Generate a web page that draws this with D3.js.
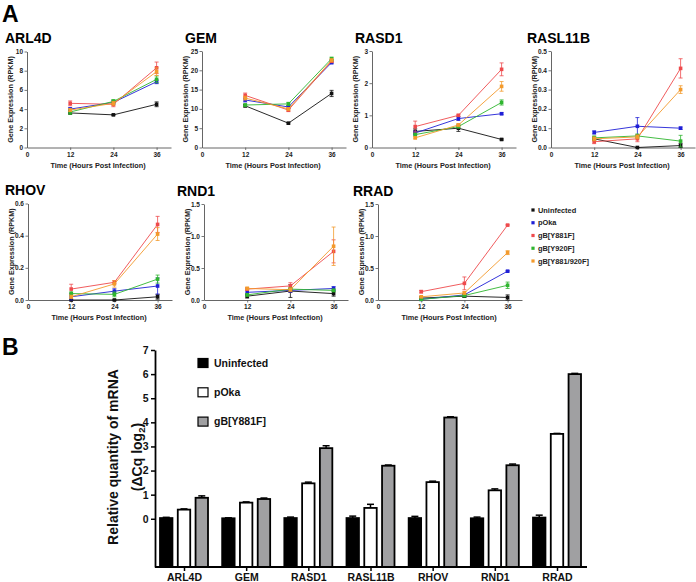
<!DOCTYPE html>
<html>
<head>
<meta charset="utf-8">
<script src="https://cdn.jsdelivr.net/npm/d3@7"></script>
<style>
  body { margin: 0; background: #fff; }
  svg { display: block; font-family: "Liberation Sans", Arial, sans-serif; }
</style>
</head>
<body>
<div id="chart"></div>
<script>
// ---- Panel A data (RPKM, mean and error per series at 12/24/36 hpi) ----
const timePoints = [12, 24, 36];
const xTicksA = [0, 12, 24, 36];
const seriesNames = ["Uninfected", "pOka", "gB[Y881F]", "gB[Y920F]", "gB[Y881/920F]"];

const ARL4D_mean = [[3.6, 3.4, 4.5], [4.0, 4.7, 6.85], [4.6, 4.5, 8.3], [3.7, 4.8, 7.1], [3.9, 4.6, 7.9]];
const ARL4D_err  = [[0.1, 0.05, 0.25], [0.15, 0.2, 0.2], [0.25, 0.25, 0.6], [0.25, 0.2, 0.35], [0.15, 0.2, 0.4]];
const GEM_mean   = [[10.8, 6.3, 14.0], [12.3, 10.5, 22.0], [13.5, 9.7, 22.4], [11.0, 11.3, 23.0], [12.8, 10.0, 22.6]];
const GEM_err    = [[0.3, 0.2, 0.8], [0.5, 0.4, 0.3], [0.6, 0.4, 0.4], [0.3, 0.4, 0.4], [0.5, 0.3, 0.4]];
const RASD1_mean = [[0.5, 0.6, 0.25], [0.45, 0.9, 1.05], [0.65, 1.0, 2.43], [0.4, 0.65, 1.4], [0.3, 0.7, 1.9]];
const RASD1_err  = [[0.08, 0.1, 0.02], [0.06, 0.06, 0.03], [0.17, 0.03, 0.2], [0.04, 0.04, 0.08], [0.03, 0.04, 0.15]];
const RASL11B_mean = [[0.045, 0.0, 0.01], [0.078, 0.11, 0.1], [0.03, 0.045, 0.41], [0.05, 0.06, 0.033], [0.045, 0.055, 0.30]];
const RASL11B_err  = [[0.01, 0.0, 0.01], [0.008, 0.045, 0.006], [0.01, 0.015, 0.05], [0.01, 0.01, 0.03], [0.01, 0.01, 0.02]];
const RHOV_mean  = [[0.0, 0.0, 0.02], [0.02, 0.055, 0.087], [0.068, 0.11, 0.47], [0.04, 0.035, 0.13], [0.02, 0.1, 0.41]];
const RHOV_err   = [[0.0, 0.0, 0.015], [0.02, 0.015, 0.05], [0.03, 0.01, 0.05], [0.01, 0.015, 0.025], [0.01, 0.02, 0.04]];
const RND1_mean  = [[0.06, 0.14, 0.1], [0.12, 0.15, 0.18], [0.17, 0.22, 0.76], [0.08, 0.17, 0.15], [0.18, 0.16, 0.84]];
const RND1_err   = [[0.03, 0.1, 0.04], [0.05, 0.03, 0.03], [0.02, 0.05, 0.18], [0.02, 0.02, 0.02], [0.02, 0.03, 0.3]];
const RRAD_mean  = [[0.03, 0.06, 0.04], [0.01, 0.08, 0.45], [0.13, 0.26, 1.17], [0.01, 0.07, 0.23], [0.05, 0.11, 0.74]];
const RRAD_err   = [[0.02, 0.02, 0.04], [0.01, 0.02, 0.01], [0.02, 0.1, 0.01], [0.01, 0.02, 0.05], [0.01, 0.02, 0.03]];

const ARL4D_ticks = [0, 2, 4, 6, 8, 10];
const GEM_ticks = [0, 5, 10, 15, 20, 25];
const RASD1_ticks = [0, 1, 2, 3];
const RASL11B_ticks = [0, 0.1, 0.2, 0.3, 0.4, 0.5];
const RHOV_ticks = [0, 0.2, 0.4, 0.6];
const RND1_ticks = [0, 0.5, 1.0, 1.5];
const RRAD_ticks = [0, 0.5, 1.0, 1.5];

// ---- Panel B data (qPCR, ΔCq log2) ----
const qpcrGenes = ["ARL4D", "GEM", "RASD1", "RASL11B", "RHOV", "RND1", "RRAD"];
const qpcrGroups = ["Uninfected", "pOka", "gB[Y881F]"];
const qUninfected = [0.03, 0.02, 0.03, 0.03, 0.03, 0.02, 0.05];
const qPOka       = [0.38, 0.67, 1.47, 0.45, 1.52, 1.18, 3.52];
const qY881F      = [0.87, 0.82, 2.93, 2.2, 4.2, 2.22, 6.0];
const qUninfected_err = [0.03, 0.02, 0.04, 0.08, 0.07, 0.05, 0.1];
const qPOka_err       = [0.03, 0.03, 0.05, 0.15, 0.04, 0.06, 0.02];
const qY881F_err      = [0.08, 0.04, 0.1, 0.03, 0.03, 0.05, 0.03];
const yTicksB = [0, 1, 2, 3, 4, 5, 6, 7];

const seriesColors = ["#111111", "#1f1fd6", "#ee4a4c", "#2fb52f", "#f39a2c"];
const barFills = ["#000000", "#ffffff", "#a0a0a2"];

const svg = d3.select("#chart").append("svg")
  .attr("width", 696)
  .attr("height", 582);

// panel letters
svg.append("text").attr("x", 2).attr("y", 22).attr("font-size", 23).attr("font-weight", "bold").text("A");
svg.append("text").attr("x", 2).attr("y", 355).attr("font-size", 23).attr("font-weight", "bold").text("B");

// ---- Panel A: small line charts ----
const panelsA = [
  {gene: "ARL4D",   mean: ARL4D_mean,   err: ARL4D_err,   ticks: ARL4D_ticks,   x0: 27,  top: 51.5, base: 147.5, tx: 5},
  {gene: "GEM",     mean: GEM_mean,     err: GEM_err,     ticks: GEM_ticks,     x0: 202, top: 51,   base: 147.5, tx: 185},
  {gene: "RASD1",   mean: RASD1_mean,   err: RASD1_err,   ticks: RASD1_ticks,   x0: 372, top: 51,   base: 147.5, tx: 355},
  {gene: "RASL11B", mean: RASL11B_mean, err: RASL11B_err, ticks: RASL11B_ticks, x0: 551, top: 51,   base: 147.5, tx: 527},
  {gene: "RHOV",    mean: RHOV_mean,    err: RHOV_err,    ticks: RHOV_ticks,    x0: 28,  top: 203.5, base: 300, tx: 5},
  {gene: "RND1",    mean: RND1_mean,    err: RND1_err,    ticks: RND1_ticks,    x0: 204, top: 204,  base: 300, tx: 177},
  {gene: "RRAD",    mean: RRAD_mean,    err: RRAD_err,    ticks: RRAD_ticks,    x0: 378, top: 204,  base: 300, tx: 353}
];

panelsA.forEach(p => {
  const g = svg.append("g");
  const x = d3.scaleLinear().domain([0, 40]).range([p.x0, p.x0 + 144]);
  const y = d3.scaleLinear().domain([0, d3.max(p.ticks)]).range([p.base, p.top]);
  const decimals = p.ticks.some(t => t % 1 !== 0);
  const fmt = decimals ? d3.format(".1f") : d3.format("d");

  // title
  g.append("text").attr("x", p.tx).attr("y", p.top - 8.5)
    .attr("font-size", 14).attr("font-weight", "bold").text(p.gene);

  // y axis
  const yAxis = g.append("g").attr("transform", `translate(${p.x0},0)`)
    .call(d3.axisLeft(y).tickValues(p.ticks).tickFormat(fmt).tickSize(2.5).tickSizeOuter(0).tickPadding(1.5));
  // x axis
  const xAxis = g.append("g").attr("transform", `translate(0,${p.base})`)
    .call(d3.axisBottom(x).tickValues(xTicksA).tickFormat(d3.format("d")).tickSize(2.5).tickSizeOuter(0).tickPadding(2));
  [yAxis, xAxis].forEach(a => {
    a.selectAll("text").attr("font-size", 6.5).attr("font-weight", "bold").attr("fill", "#222")
      .attr("font-family", "Liberation Sans, Arial, sans-serif");
    a.selectAll("line").attr("stroke", "#555").attr("stroke-width", 0.8);
    a.select(".domain").attr("stroke", "#555").attr("stroke-width", 0.9);
  });
  xAxis.selectAll(".tick").filter(d => d === 0).select("line").remove();

  // axis titles
  g.append("text")
    .attr("transform", `translate(${p.x0 - 14},${(p.top + p.base) / 2}) rotate(-90)`)
    .attr("text-anchor", "middle").attr("font-size", 7.2).attr("font-weight", "bold").attr("fill", "#222")
    .text("Gene Expression (RPKM)");
  g.append("text")
    .attr("x", p.x0 + 71).attr("y", p.base + 20)
    .attr("text-anchor", "middle").attr("font-size", 7.3).attr("font-weight", "bold").attr("fill", "#222")
    .text("Time (Hours Post Infection)");

  // series
  const line = d3.line().x(d => x(d.t)).y(d => y(d.v));
  p.mean.forEach((vals, si) => {
    const pts = vals.map((v, i) => ({t: timePoints[i], v: v, e: p.err[si][i]}));
    const col = seriesColors[si];
    g.append("path").datum(pts).attr("d", line)
      .attr("fill", "none").attr("stroke", col).attr("stroke-width", 0.9);
    const eb = g.append("g").attr("stroke", col).attr("stroke-width", 0.8);
    pts.forEach(d => {
      const lo = y(Math.max(0, d.v - d.e)), hi = y(d.v + d.e);
      eb.append("line").attr("x1", x(d.t)).attr("x2", x(d.t)).attr("y1", lo).attr("y2", hi);
      eb.append("line").attr("x1", x(d.t) - 2).attr("x2", x(d.t) + 2).attr("y1", hi).attr("y2", hi);
      eb.append("line").attr("x1", x(d.t) - 2).attr("x2", x(d.t) + 2).attr("y1", lo).attr("y2", lo);
    });
    g.selectAll(null).data(pts).join("rect")
      .attr("x", d => x(d.t) - 1.8).attr("y", d => y(d.v) - 1.8)
      .attr("width", 3.6).attr("height", 3.6).attr("fill", col);
  });
});

// legend for panel A
const legA = svg.append("g").attr("transform", "translate(533,210)");
seriesNames.forEach((name, i) => {
  const row = legA.append("g").attr("transform", `translate(0,${i * 12.75})`);
  row.append("rect").attr("x", -1.6).attr("y", -1.6).attr("width", 3.2).attr("height", 3.2).attr("fill", seriesColors[i]);
  row.append("text").attr("x", 5).attr("dy", "0.35em").attr("font-size", 7.4).attr("font-weight", "bold")
    .attr("fill", "#222").text(name);
});

// ---- Panel B: grouped bar chart ----
const yB = d3.scaleLinear().domain([-2, 7]).range([567, 350]);
const xB = d3.scalePoint().domain(qpcrGenes).range([184, 557]);
const inner = d3.scaleBand().domain(qpcrGroups).range([-24, 24]).paddingInner(0.3);
const qValues = [qUninfected, qPOka, qY881F];
const qErrors = [qUninfected_err, qPOka_err, qY881F_err];

const gB = svg.append("g");
qpcrGroups.forEach((grp, gi) => {
  qpcrGenes.forEach((gene, i) => {
    const v = qValues[gi][i], e = qErrors[gi][i];
    const bx = xB(gene) + inner(grp);
    const cx = bx + inner.bandwidth() / 2;
    gB.append("line").attr("x1", cx).attr("x2", cx).attr("y1", yB(v)).attr("y2", yB(v + e))
      .attr("stroke", "#000").attr("stroke-width", 1.5);
    gB.append("line").attr("x1", cx - 3.5).attr("x2", cx + 3.5).attr("y1", yB(v + e)).attr("y2", yB(v + e))
      .attr("stroke", "#000").attr("stroke-width", 1.5);
    gB.append("rect").attr("x", bx).attr("y", yB(v))
      .attr("width", inner.bandwidth()).attr("height", yB(-2) - yB(v))
      .attr("fill", barFills[gi]).attr("stroke", "#000").attr("stroke-width", 1.8);
  });
});

// axes B
const yAxisB = svg.append("g").attr("transform", "translate(155,0)")
  .call(d3.axisLeft(yB).tickValues(yTicksB).tickFormat(d3.format("d")).tickSize(4).tickSizeOuter(0).tickPadding(2.5));
const xAxisB = svg.append("g").attr("transform", "translate(0,567)")
  .call(d3.axisBottom(xB).tickSize(4).tickSizeOuter(0).tickPadding(3));
xAxisB.select(".domain").remove();
svg.append("line").attr("x1", 155).attr("x2", 587).attr("y1", 567).attr("y2", 567)
  .attr("stroke", "#000").attr("stroke-width", 1.8);
[yAxisB, xAxisB].forEach(a => {
  a.selectAll("text").attr("font-size", 10.5).attr("font-weight", "bold").attr("fill", "#111")
    .attr("font-family", "Liberation Sans, Arial, sans-serif");
  a.selectAll("line").attr("stroke", "#000").attr("stroke-width", 1.5);
  a.select(".domain").attr("stroke", "#000").attr("stroke-width", 1.8);
});

// y title B
const yTitle = svg.append("text").attr("transform", "translate(118,457) rotate(-90)")
  .attr("text-anchor", "middle").attr("font-size", 14).attr("font-weight", "bold").attr("fill", "#111");
yTitle.append("tspan").attr("x", 0).attr("y", 0).text("Relative quantity of mRNA");
const line2 = yTitle.append("tspan").attr("x", 0).attr("y", 24).text("(\u0394Cq log");
line2.append("tspan").attr("font-size", 9.5).attr("dy", 3).text("2");
line2.append("tspan").attr("dy", -3).text(")");

// legend B
const legB = svg.append("g").attr("transform", "translate(198,363)");
qpcrGroups.forEach((grp, i) => {
  const row = legB.append("g").attr("transform", `translate(0,${i * 29.3})`);
  row.append("rect").attr("x", 0).attr("y", -4.5).attr("width", 10).attr("height", 9)
    .attr("fill", barFills[i]).attr("stroke", "#000").attr("stroke-width", 1.2);
  row.append("text").attr("x", 16).attr("dy", "0.36em").attr("font-size", 10.5).attr("font-weight", "bold")
    .attr("fill", "#111").text(grp);
});
</script>
</body>
</html>
